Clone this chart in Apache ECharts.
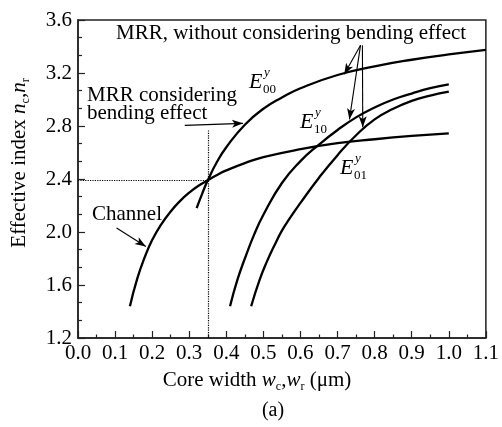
<!DOCTYPE html>
<html>
<head>
<meta charset="utf-8">
<script src="https://cdn.jsdelivr.net/npm/echarts@6/dist/echarts.min.js"></script>
<style>
  html, body { margin: 0; padding: 0; background: #fff; }
  #chart { width: 502px; height: 427px; }
</style>
</head>
<body>
<div id="chart"></div>
<script>
// curve data
const channelX = [0.14, 0.16, 0.18, 0.20, 0.225, 0.25, 0.275, 0.30, 0.325, 0.35, 0.375, 0.40, 0.45, 0.50, 0.60, 0.70, 0.80, 0.90, 1.00]
const channelY = [1.44, 1.65, 1.81, 1.94, 2.06, 2.155, 2.233, 2.297, 2.349, 2.39, 2.431, 2.465, 2.52, 2.565, 2.625, 2.67, 2.70, 2.725, 2.745]
const e00X = [0.32, 0.335, 0.35, 0.375, 0.40, 0.45, 0.50, 0.55, 0.60, 0.70, 0.80, 0.90, 1.00, 1.10]
const e00Y = [2.18, 2.29, 2.39, 2.53, 2.64, 2.81, 2.93, 3.015, 3.085, 3.185, 3.25, 3.30, 3.34, 3.375]
const e10X = [0.41, 0.43, 0.45, 0.475, 0.50, 0.55, 0.60, 0.65, 0.70, 0.75, 0.80, 0.85, 0.90, 0.95, 1.00]
const e10Y = [1.44, 1.64, 1.80, 1.98, 2.13, 2.37, 2.535, 2.66, 2.77, 2.865, 2.94, 3.00, 3.045, 3.085, 3.115]
const e01X = [0.467, 0.49, 0.51, 0.53, 0.55, 0.575, 0.60, 0.65, 0.70, 0.75, 0.80, 0.85, 0.90, 0.95, 1.00]
const e01Y = [1.44, 1.64, 1.78, 1.90, 2.01, 2.12, 2.22, 2.41, 2.58, 2.73, 2.85, 2.93, 2.99, 3.03, 3.06]

// operating point (dotted guides)
const crossX = 0.35
const crossY = 2.39

const FONT = 'Liberation Serif'
const pair = (xs, ys) => xs.map((x, i) => [x, ys[i]])

const chart = echarts.init(document.getElementById('chart'))

const curve = (name, xs, ys, extra) => Object.assign({
  name: name,
  type: 'line',
  data: pair(xs, ys),
  smooth: 0.5,
  showSymbol: false,
  lineStyle: { color: '#000', width: 2.3 },
  silent: true
}, extra || {})

const arrow = (from, to) => [
  { coord: from, symbol: 'none' },
  { coord: to, symbol: 'arrow' }
]
const dotted = { type: 'dotted', width: 1.2, color: '#000' }

const subRich = {
  t: { fontFamily: FONT, fontSize: 21, color: '#000', lineHeight: 26 },
  i: { fontFamily: FONT, fontSize: 21, fontStyle: 'italic', color: '#000', lineHeight: 26 },
  s: { fontFamily: FONT, fontSize: 12, color: '#000', lineHeight: 12, verticalAlign: 'bottom' }
}

const txt = (x, y, text, size, italic) => ({
  type: 'text',
  x: x,
  y: y,
  style: {
    text: text,
    fontFamily: FONT,
    fontSize: size,
    fontStyle: italic ? 'italic' : 'normal',
    fill: '#000',
    verticalAlign: 'middle'
  }
})

const modeLabel = (x, y, sub) => [
  txt(x, y, 'E', 22, true),
  txt(x + 15, y - 9, 'y', 13, true),
  txt(x + 14, y + 8, sub, 13, false)
]

chart.setOption({
  animation: false,
  grid: {
    left: 78, right: 15, top: 20, bottom: 89,
    show: true, borderColor: '#222', borderWidth: 1.5
  },
  xAxis: {
    type: 'value',
    min: 0, max: 1.1, interval: 0.1,
    name: '{t|Core width }{i|w}{s|c}{t|,}{i|w}{s|r}{t| (μm)}',
    nameLocation: 'middle',
    nameGap: 29,
    nameTextStyle: { rich: subRich, padding: [0, 50, 0, 0] },
    axisLine: { lineStyle: { color: '#222', width: 1.5 } },
    axisTick: { inside: true, length: 7, lineStyle: { color: '#222', width: 1.2 } },
    minorTick: { show: true, splitNumber: 2, length: 3.5, lineStyle: { color: '#222', width: 1.2 } },
    splitLine: { show: false },
    axisLabel: {
      color: '#000', fontFamily: FONT, fontSize: 21, margin: 5,
      formatter: v => v.toFixed(1)
    }
  },
  yAxis: {
    type: 'value',
    min: 1.2, max: 3.6, interval: 0.4,
    name: '{t|Effective index }{i|n}{s|c}{t|,}{i|n}{s|r}',
    nameLocation: 'middle',
    nameGap: 46,
    nameTextStyle: { rich: subRich, padding: [0, 0, 0, 32] },
    axisLine: { lineStyle: { color: '#222', width: 1.5 } },
    axisTick: { inside: true, length: 7, lineStyle: { color: '#222', width: 1.2 } },
    minorTick: { show: true, splitNumber: 3, length: 4, lineStyle: { color: '#222', width: 1.2 } },
    splitLine: { show: false },
    axisLabel: {
      color: '#000', fontFamily: FONT, fontSize: 21, margin: 6,
      formatter: v => v.toFixed(1)
    }
  },
  series: [
    curve('Channel', channelX, channelY, {
      markLine: {
        silent: true,
        animation: false,
        symbolSize: [6, 11],
        label: { show: false },
        lineStyle: { color: '#000', width: 1.1, type: 'solid' },
        data: [
          [{ coord: [crossX, 1.2], symbol: 'none', lineStyle: dotted }, { coord: [crossX, 2.77], symbol: 'none' }],
          [{ coord: [0, crossY], symbol: 'none', lineStyle: dotted }, { coord: [crossX, crossY], symbol: 'none' }],
          arrow([0.762, 3.41], [0.718, 3.19]),
          arrow([0.762, 3.41], [0.732, 2.85]),
          arrow([0.767, 3.41], [0.768, 2.79]),
          arrow([0.288, 2.805], [0.445, 2.82]),
          arrow([0.104, 2.03], [0.183, 1.89])
        ]
      }
    }),
    curve('E00', e00X, e00Y),
    curve('E10', e10X, e10Y),
    curve('E01', e01X, e01Y)
  ],
  graphic: [
    txt(116, 33, 'MRR, without considering bending effect', 21),
    txt(87, 95, 'MRR considering', 21),
    txt(87, 113, 'bending effect', 21),
    txt(92, 214, 'Channel', 21),
    ...modeLabel(249, 82, '00'),
    ...modeLabel(300, 122, '10'),
    ...modeLabel(340, 168, '01'),
    { type: 'text', x: 273, y: 411, style: { text: '(a)', fontFamily: FONT, fontSize: 20, fill: '#000', align: 'center', verticalAlign: 'middle' } }
  ]
})
</script>
</body>
</html>
